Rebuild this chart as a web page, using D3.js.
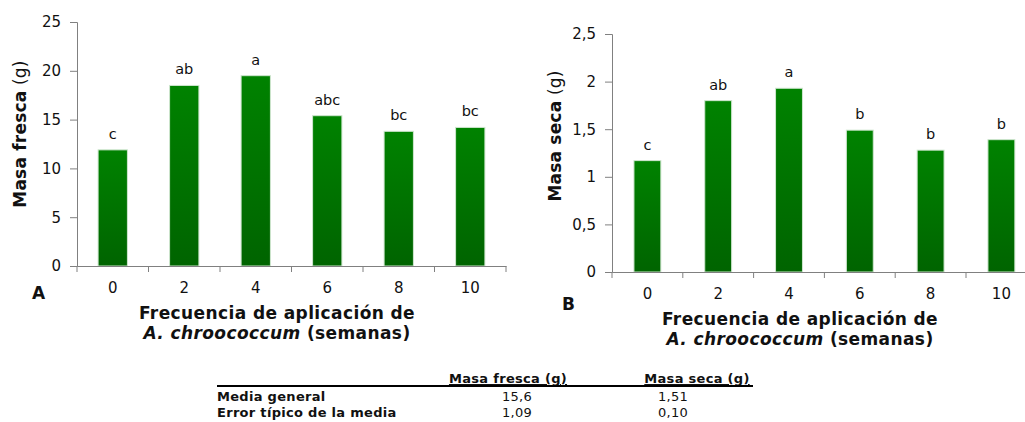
<!DOCTYPE html>
<html>
<head>
<meta charset="utf-8">
<script src="https://cdn.jsdelivr.net/npm/d3@7"></script>
<style>
  body { margin: 0; background: #fff; }
  text { font-family: "DejaVu Sans", Verdana, sans-serif; fill: #111; }
</style>
</head>
<body>
<svg id="fig" width="1025" height="422"></svg>
<script>
// data
const frecuencias = ['0', '2', '4', '6', '8', '10'];
const masaFresca = [11.9, 18.5, 19.5, 15.4, 13.8, 14.2];
const letrasFresca = ['c', 'ab', 'a', 'abc', 'bc', 'bc'];
const masaSeca = [1.17, 1.80, 1.93, 1.49, 1.28, 1.39];
const letrasSeca = ['c', 'ab', 'a', 'b', 'b', 'b'];
const ticksFresca = [0, 5, 10, 15, 20, 25];
const ticksSeca = [0, 0.5, 1, 1.5, 2, 2.5];

const filasTabla = ['Media general', 'Error típico de la media'];
const columnasTabla = ['Masa fresca (g)', 'Masa seca (g)'];
const mediaGeneral = ['15,6', '1,51'];
const errorTipico = ['1,09', '0,10'];

const svg = d3.select('#fig');
const comma = d => String(d).replace('.', ',');
const FONT = '"DejaVu Sans", Verdana, sans-serif';

// gradient for bars
const defs = svg.append('defs');
const grad = defs.append('linearGradient')
    .attr('id', 'barGrad')
    .attr('x1', 0).attr('y1', 0).attr('x2', 0).attr('y2', 1);
grad.append('stop').attr('offset', '0%').attr('stop-color', '#008200');
grad.append('stop').attr('offset', '100%').attr('stop-color', '#006400');

function drawPanel(opts) {
    const g = svg.append('g');
    const x = d3.scaleBand()
        .domain(frecuencias)
        .range([opts.left, opts.left + opts.step * frecuencias.length])
        .paddingInner(opts.pad)
        .paddingOuter(opts.pad / 2);
    const y = d3.scaleLinear()
        .domain([0, d3.max(opts.ticks)])
        .range([opts.bottom, opts.top]);

    // bars
    g.selectAll('rect.bar')
        .data(opts.values)
        .join('rect')
        .attr('class', 'bar')
        .attr('x', (d, i) => x(frecuencias[i]))
        .attr('y', d => y(d))
        .attr('width', x.bandwidth())
        .attr('height', d => y(0) - y(d))
        .attr('fill', 'url(#barGrad)')
        .attr('stroke', '#cfe6cf')
        .attr('stroke-width', 1);

    // letters
    g.selectAll('text.letra')
        .data(opts.letters)
        .join('text')
        .attr('class', 'letra')
        .attr('x', (d, i) => x(frecuencias[i]) + x.bandwidth() / 2)
        .attr('y', (d, i) => y(opts.values[i]) - 11)
        .attr('text-anchor', 'middle')
        .attr('font-size', 14.5)
        .text(d => d);

    // y axis
    const yAxis = g.append('g')
        .attr('transform', `translate(${opts.left},0)`)
        .call(d3.axisLeft(y).tickValues(opts.ticks).tickSize(7).tickPadding(9).tickFormat(comma));
    yAxis.selectAll('text').attr('font-size', 15).style('font-family', FONT);

    // x axis
    const xAxis = g.append('g')
        .attr('transform', `translate(0,${opts.bottom})`)
        .call(d3.axisBottom(x).tickSize(0).tickPadding(16).tickSizeOuter(0));
    xAxis.selectAll('text').attr('font-size', 15).style('font-family', FONT);
    const bounds = d3.range(frecuencias.length + 1).map(i => opts.left + i * x.step());
    xAxis.selectAll('line.bound')
        .data(bounds)
        .join('line')
        .attr('class', 'bound')
        .attr('x1', d => d).attr('x2', d => d)
        .attr('y1', 0).attr('y2', 6)
        .attr('stroke', '#808080');
    svg.selectAll('.domain, .tick line').attr('stroke', '#808080');

    // y title
    const yt = g.append('text')
        .attr('transform', `translate(${opts.yTitleX},${opts.yTitleY}) rotate(-90)`)
        .attr('text-anchor', 'middle')
        .attr('font-size', 17)
        .attr('letter-spacing', 0.2);
    yt.append('tspan').attr('font-weight', 'bold').text(opts.yTitle);
    yt.append('tspan').text(' (g)');

    // x title
    g.append('text')
        .attr('x', opts.xTitleX).attr('y', opts.xTitleY)
        .attr('text-anchor', 'middle')
        .attr('font-size', 17).attr('font-weight', 'bold')
        .attr('letter-spacing', 0.4)
        .text('Frecuencia de aplicación de');
    const l2 = g.append('text')
        .attr('x', opts.xTitleX).attr('y', opts.xTitleY + 20)
        .attr('text-anchor', 'middle')
        .attr('font-size', 17).attr('font-weight', 'bold')
        .attr('letter-spacing', 0.4);
    l2.append('tspan').attr('font-style', 'italic').text('A. chroococcum');
    l2.append('tspan').text(' (semanas)');

    // panel letter
    g.append('text')
        .attr('x', opts.labelX).attr('y', opts.labelY)
        .attr('font-size', 17).attr('font-weight', 'bold')
        .text(opts.label);
}

drawPanel({
    values: masaFresca, letters: letrasFresca, ticks: ticksFresca,
    left: 77, step: 71.5, pad: 0.59, top: 22, bottom: 266,
    yTitleX: 26, yTitleY: 134, yTitle: 'Masa fresca',
    xTitleX: 277, xTitleY: 319,
    label: 'A', labelX: 32, labelY: 299
});

drawPanel({
    values: masaSeca, letters: letrasSeca, ticks: ticksSeca,
    left: 612, step: 70.8, pad: 0.62, top: 34, bottom: 272,
    yTitleX: 561, yTitleY: 136, yTitle: 'Masa seca',
    xTitleX: 800, xTitleY: 325,
    label: 'B', labelX: 562, labelY: 310
});

// summary table
const tbl = svg.append('g').attr('font-size', 13).attr('letter-spacing', 0.3);
const colX = [508, 697];
const valX = [517, 673];
tbl.selectAll('text.col')
    .data(columnasTabla)
    .join('text')
    .attr('class', 'col')
    .attr('x', (d, i) => colX[i]).attr('y', 383)
    .attr('text-anchor', 'middle')
    .attr('font-weight', 'bold')
    .attr('text-decoration', 'underline')
    .text(d => d);
tbl.append('line')
    .attr('x1', 217).attr('x2', 753)
    .attr('y1', 386).attr('y2', 386)
    .attr('stroke', '#000').attr('stroke-width', 1.8);
tbl.selectAll('text.row')
    .data(filasTabla)
    .join('text')
    .attr('class', 'row')
    .attr('x', 217).attr('y', (d, i) => 401 + i * 16)
    .attr('font-weight', 'bold')
    .text(d => d);
[mediaGeneral, errorTipico].forEach((row, r) => {
    tbl.selectAll('text.v' + r)
        .data(row)
        .join('text')
        .attr('class', 'v' + r)
        .attr('x', (d, i) => valX[i]).attr('y', 401 + r * 16)
        .attr('text-anchor', 'middle')
        .text(d => d);
});
</script>
</body>
</html>
